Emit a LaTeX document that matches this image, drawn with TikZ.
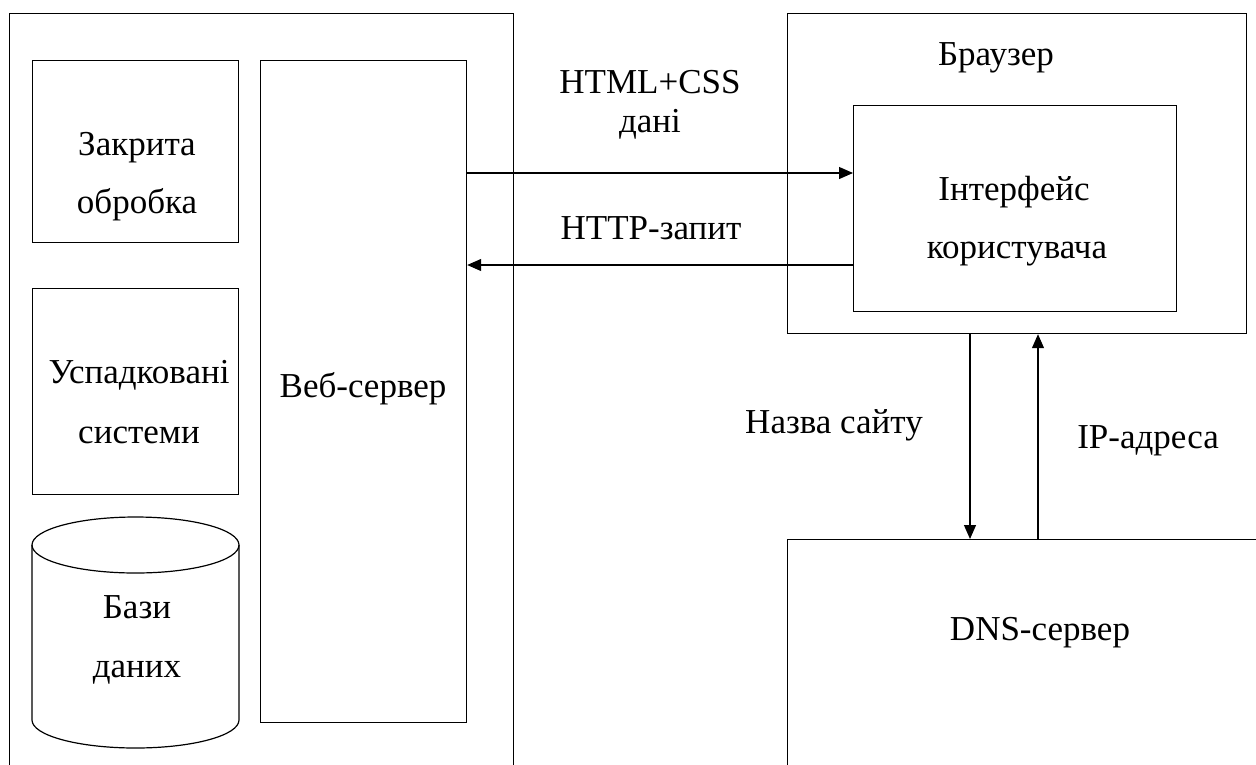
\documentclass[tikz,border=0pt]{standalone}
\usepackage{fontspec}
\setmainfont{Liberation Serif}
\usetikzlibrary{arrows.meta}
\begin{document}
\begin{tikzpicture}[x=1pt,y=-1pt,line width=1.2pt,
  box/.style={draw,rectangle,inner sep=0pt,anchor=north west},
  lbl/.style={anchor=base,inner sep=0pt,font=\fontsize{35}{42}\selectfont},
  arr/.style={-{Triangle[length=14pt,width=12pt]}}]
\useasboundingbox (0,0) rectangle (1256,764);
\clip (0,0) rectangle (1256,764);
% boxes
\node[box,minimum width=504pt,minimum height=800pt] (srv) at (9,13) {};
\node[box,minimum width=206pt,minimum height=182pt] (closed) at (32,60) {};
\node[box,minimum width=206pt,minimum height=206pt] (legacy) at (32,288) {};
\node[box,minimum width=206pt,minimum height=662pt] (web) at (260,60) {};
\node[box,minimum width=459pt,minimum height=320pt] (browser) at (787,13) {};
\node[box,minimum width=323pt,minimum height=206pt] (ui) at (853,105) {};
\node[box,minimum width=500pt,minimum height=300pt] (dns) at (787,539) {};
% database cylinder
\draw (135.5,545) ellipse [x radius=103.5,y radius=28];
\draw (32,545) -- (32,720) arc[start angle=180,end angle=0,x radius=103.5,y radius=28] -- (239,545);
% labels
\node[lbl] (t1a) at (137,155) {Закрита};
\node[lbl] (t1b) at (137,213) {обробка};
\node[lbl] (t2a) at (139,383) {Успадковані};
\node[lbl] (t2b) at (139,443) {системи};
\node[lbl] (t3a) at (137,618) {Бази};
\node[lbl] (t3b) at (137,677) {даних};
\node[lbl] (t4) at (363,397) {Веб-сервер};
\node[lbl] (t5a) at (650,93) {HTML+CSS};
\node[lbl] (t5b) at (650,132) {дані};
\node[lbl] (t6) at (651,239) {HTTP-запит};
\node[lbl] (t7) at (996,65) {Браузер};
\node[lbl] (t8a) at (1014,200) {Інтерфейс};
\node[lbl] (t8b) at (1017,258) {користувача};
\node[lbl] (t9) at (834,433) {Назва сайту};
\node[lbl] (t10) at (1148,448) {IP-адреса};
\node[lbl] (t11) at (1040,640) {DNS-сервер};
% connectors
\draw[arr] (web.east |- 0,173) -- (ui.west |- 0,173);
\draw[arr] (ui.west |- 0,265) -- (web.east |- 0,265);
\draw[arr] (browser.south -| 970,0) -- (dns.north -| 970,0);
\draw[arr] (dns.north -| 1038,0) -- (browser.south -| 1038,0);
\end{tikzpicture}
\end{document}
